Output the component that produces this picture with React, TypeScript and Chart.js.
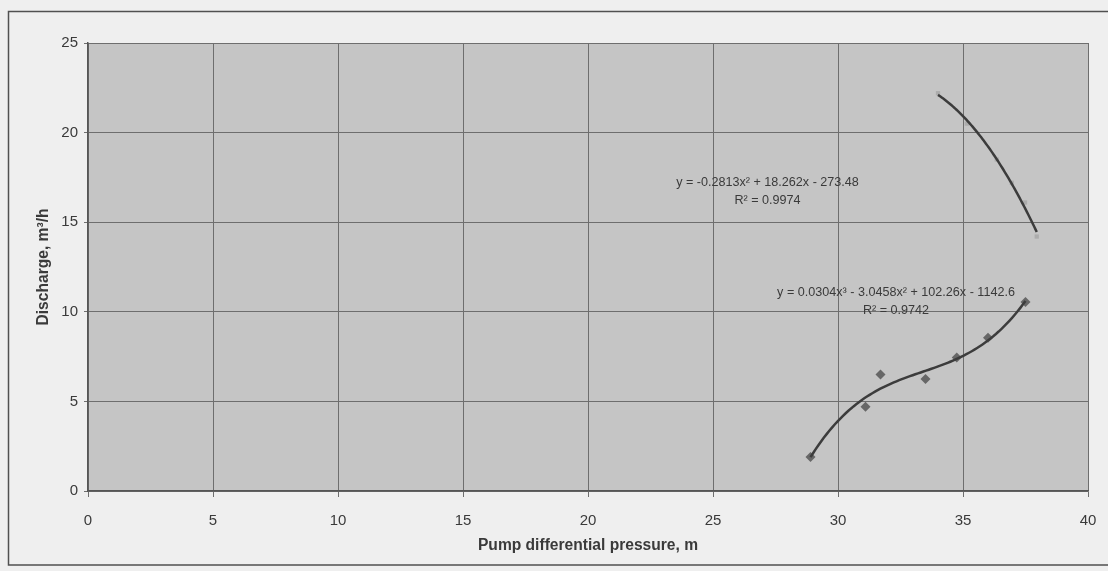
import React, { useEffect, useRef } from "react";
import { Chart, registerables } from "chart.js";

Chart.register(...registerables);

// Upper series (light square markers) – quadratic trendline
const pressureUpper = [34.0, 35.15, 36.35, 36.95, 37.48, 37.95];
const dischargeUpper = [22.2, 20.5, 18.5, 17.2, 16.1, 14.2];

// Lower series (dark diamond markers) – cubic trendline
const pressureLower = [28.9, 31.1, 31.7, 33.5, 34.75, 36.0, 37.5];
const dischargeLower = [1.9, 4.7, 6.5, 6.25, 7.45, 8.55, 10.55];

const xTickValues = [0, 5, 10, 15, 20, 25, 30, 35, 40];
const yTickValues = [0, 5, 10, 15, 20, 25];

const upperEquation = ["y = -0.2813x² + 18.262x - 273.48", "R² = 0.9974"];
const lowerEquation = ["y = 0.0304x³ - 3.0458x² + 102.26x - 1142.6", "R² = 0.9742"];

const xTitle = "Pump differential pressure, m";
const yTitle = "Discharge, m³/h";

// least-squares polynomial fit (the trendline), x centred for stability
function polyfit(xs: number[], ys: number[], deg: number) {
  const mean = xs.reduce((a, b) => a + b, 0) / xs.length;
  const n = deg + 1;
  const A: number[][] = Array.from({ length: n }, () => new Array(n + 1).fill(0));
  for (let k = 0; k < xs.length; k++) {
    const t = xs[k] - mean;
    for (let i = 0; i < n; i++) {
      for (let j = 0; j < n; j++) A[i][j] += Math.pow(t, i + j);
      A[i][n] += ys[k] * Math.pow(t, i);
    }
  }
  for (let c = 0; c < n; c++) {
    let p = c;
    for (let r = c + 1; r < n; r++) if (Math.abs(A[r][c]) > Math.abs(A[p][c])) p = r;
    [A[c], A[p]] = [A[p], A[c]];
    for (let r = 0; r < n; r++) {
      if (r === c) continue;
      const f = A[r][c] / A[c][c];
      for (let j = c; j <= n; j++) A[r][j] -= f * A[c][j];
    }
  }
  const coef = A.map((row, i) => row[n] / row[i]);
  return (x: number) => coef.reduce((s, c, i) => s + c * Math.pow(x - mean, i), 0);
}

function trendPoints(xs: number[], ys: number[], deg: number) {
  const f = polyfit(xs, ys, deg);
  const lo = Math.min(...xs);
  const hi = Math.max(...xs);
  const steps = 80;
  const pts: { x: number; y: number }[] = [];
  for (let i = 0; i <= steps; i++) {
    const x = lo + ((hi - lo) * i) / steps;
    pts.push({ x, y: f(x) });
  }
  return pts;
}

const decorPlugin = {
  id: "decor",
  beforeDraw(chart: any) {
    const { ctx, chartArea: a, width, height } = chart;
    ctx.save();
    ctx.fillStyle = "#efefef";
    ctx.fillRect(0, 0, width, height);
    ctx.fillStyle = "#c5c5c5";
    ctx.fillRect(a.left, a.top, a.right - a.left, a.bottom - a.top);
    ctx.strokeStyle = "#505050";
    ctx.lineWidth = 1.5;
    ctx.beginPath();
    ctx.moveTo(width, 11.5);
    ctx.lineTo(8.5, 11.5);
    ctx.lineTo(8.5, 565);
    ctx.lineTo(width, 565);
    ctx.stroke();
    ctx.restore();
  },
  afterDatasetsDraw(chart: any) {
    const { ctx } = chart;
    const xs = chart.scales.x;
    const ys = chart.scales.y;
    ctx.save();
    ctx.fillStyle = "#3a3a3a";
    ctx.font = "12.6px 'Liberation Sans', Arial, sans-serif";
    ctx.textAlign = "center";
    ctx.textBaseline = "middle";
    const draw = (lines: string[], xv: number, yv: number) => {
      const px = xs.getPixelForValue(xv);
      const py = ys.getPixelForValue(yv);
      ctx.fillText(lines[0], px, py);
      ctx.fillText(lines[1], px, py + 18);
    };
    draw(upperEquation, 27.18, 17.2);
    draw(lowerEquation, 32.32, 11.05);
    ctx.restore();
  },
};

export default function App() {
  const ref = useRef<HTMLCanvasElement | null>(null);
  useEffect(() => {
    document.body.style.margin = "0";
    const canvas = ref.current!;
    const font = { family: "'Liberation Sans', Arial, sans-serif", size: 15 };
    const titleFont = { family: "'Liberation Sans', Arial, sans-serif", size: 15.6, weight: "bold" };
    const chart = new Chart(canvas, {
      type: "scatter",
      data: {
        datasets: [
          {
            type: "line",
            data: trendPoints(pressureUpper, dischargeUpper, 2),
            borderColor: "#3c3c3c",
            borderWidth: 2.5,
            pointRadius: 0,
            fill: false,
            order: 0,
          },
          {
            type: "line",
            data: trendPoints(pressureLower, dischargeLower, 3),
            borderColor: "#3c3c3c",
            borderWidth: 2.5,
            pointRadius: 0,
            fill: false,
            order: 0,
          },
          {
            data: pressureUpper.map((x, i) => ({ x, y: dischargeUpper[i] })),
            pointStyle: "rect",
            pointRadius: 3,
            backgroundColor: "#acacac",
            borderColor: "#acacac",
            borderWidth: 0,
            order: 1,
          },
          {
            data: pressureLower.map((x, i) => ({ x, y: dischargeLower[i] })),
            pointStyle: "rectRot",
            pointRadius: 5,
            backgroundColor: "#676767",
            borderColor: "#676767",
            borderWidth: 0,
            order: 1,
          },
        ],
      },
      options: {
        animation: false,
        responsive: false,
        events: [],
        layout: { padding: { left: 0, top: 43, right: 20, bottom: 0 } },
        plugins: { legend: { display: false }, tooltip: { enabled: false } },
        scales: {
          x: {
            type: "linear",
            min: 0,
            max: 40,
            afterBuildTicks: (s: any) => {
              s.ticks = xTickValues.map((v) => ({ value: v }));
            },
            afterFit: (s: any) => {
              s.height = 80;
              s.paddingLeft = 0;
              s.paddingRight = 0;
            },
            ticks: { color: "#3a3a3a", font, padding: 15, maxRotation: 0 },
            grid: { color: "#6e6e6e", lineWidth: 1, tickLength: 6, tickColor: "#6e6e6e" },
            border: { display: true, color: "#555555", width: 1.5 },
            title: {
              display: true,
              text: xTitle,
              color: "#3a3a3a",
              font: titleFont,
              padding: { top: 0, bottom: 16 },
            },
          },
          y: {
            type: "linear",
            min: 0,
            max: 25,
            afterBuildTicks: (s: any) => {
              s.ticks = yTickValues.map((v) => ({ value: v }));
            },
            afterFit: (s: any) => {
              s.width = 88;
              s.paddingTop = 0;
              s.paddingBottom = 0;
            },
            ticks: { color: "#3a3a3a", font, padding: 6 },
            grid: { color: "#6e6e6e", lineWidth: 1, tickLength: 4, tickColor: "#6e6e6e" },
            border: { display: true, color: "#555555", width: 1.5 },
            title: {
              display: true,
              text: yTitle,
              color: "#3a3a3a",
              font: titleFont,
              padding: { top: 34, bottom: 0 },
            },
          },
        },
      },
      plugins: [decorPlugin],
    } as any);
    return () => chart.destroy();
  }, []);
  return (
    <canvas
      ref={ref}
      width={1108}
      height={571}
      style={{ display: "block", width: 1108, height: 571 }}
    />
  );
}
